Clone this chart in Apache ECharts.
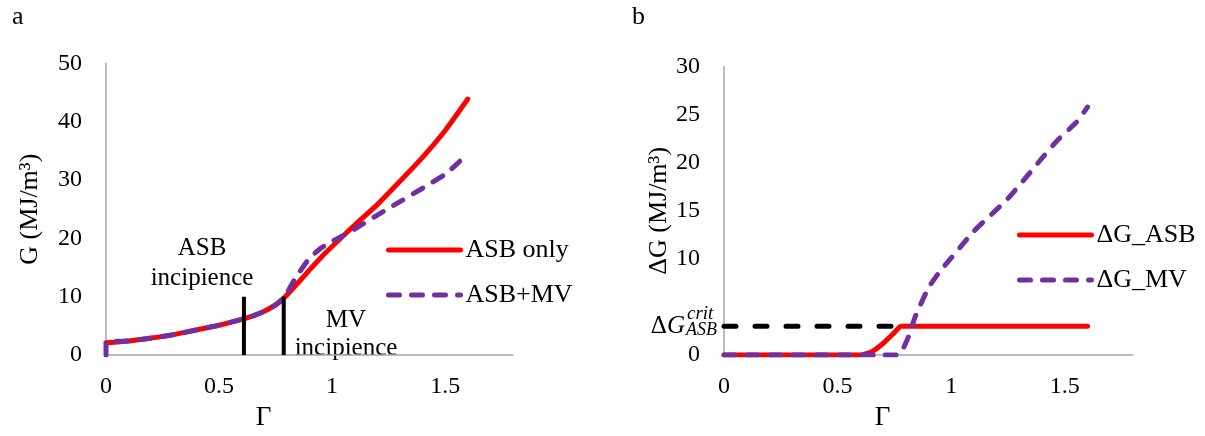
<!DOCTYPE html>
<html>
<head>
<meta charset="utf-8">
<script src="https://cdn.jsdelivr.net/npm/echarts@6/dist/echarts.min.js"></script>
<style>
html,body{margin:0;padding:0;background:#fff;}
#c{width:1205px;height:436px;}
</style>
</head>
<body>
<div id="c"></div>
<script>
// ---------- data ----------
// Panel a: G vs Γ
const gammaA_ASB = [0, 0.1, 0.2, 0.3, 0.4, 0.5, 0.6, 0.65, 0.7, 0.75, 0.8, 0.85, 0.9, 0.95, 1.0, 1.1, 1.2, 1.3, 1.4, 1.5, 1.6];
const G_ASB      = [2.1, 2.4, 2.9, 3.5, 4.3, 5.1, 6.1, 6.7, 7.5, 8.6, 10.3, 12.4, 14.6, 16.7, 18.6, 22.3, 25.8, 29.8, 33.9, 38.5, 43.9];
const gammaA_MV  = [0, 0, 0.1, 0.2, 0.3, 0.4, 0.5, 0.6, 0.65, 0.7, 0.75, 0.78, 0.8, 0.82, 0.85, 0.9, 0.95, 1.0, 1.05, 1.1, 1.2, 1.3, 1.4, 1.5, 1.55, 1.6];
const G_MV       = [0, 2.1, 2.4, 2.9, 3.5, 4.3, 5.1, 6.1, 6.7, 7.5, 8.6, 9.5, 10.6, 12.0, 13.9, 16.6, 18.3, 19.5, 20.5, 21.6, 24.0, 26.3, 28.6, 31.0, 32.7, 34.6];
const incipienceGamma = [0.61, 0.786];   // vertical marker positions
const markerSpan = [0, 10];              // marker extent in G

// Panel b: ΔG vs Γ
const gammaB_ASB = [0, 0.6, 0.65, 0.7, 0.74, 0.77, 0.78, 1.0, 1.3, 1.6];
const dG_ASB     = [0, 0, 0.35, 1.2, 2.1, 2.85, 3.0, 3.0, 3.0, 3.0];
const gammaB_MV  = [0, 0.76, 0.78, 0.81, 0.84, 0.87, 0.9, 0.95, 1.0, 1.05, 1.1, 1.18, 1.25, 1.33, 1.4, 1.47, 1.55, 1.6];
const dG_MV      = [0, 0, 0.3, 1.8, 3.9, 5.5, 7.0, 8.7, 10.1, 11.5, 12.9, 14.7, 16.3, 18.5, 20.5, 22.4, 24.2, 25.8];
const critGamma  = [0, 0.77];
const critValue  = 3;

const xTicksA = {min: 0, max: 1.8, interval: 0.5};
const yTicksA = {min: 0, max: 50, interval: 10};
const yTicksB = {min: 0, max: 30, interval: 5};

// ---------- helpers ----------
const zip = (xs, ys) => xs.map((x, i) => [x, ys[i]]);
const FONT = 'Liberation Serif';
const RED = '#FF0000', PURPLE = '#7030A0', AXIS = '#A6A6A6';
const LW = 5;
const DASH = [11, 12];

function xAxis(gi){
  return {
    type: 'value', gridIndex: gi, min: xTicksA.min, max: xTicksA.max, interval: xTicksA.interval,
    name: 'Γ', nameLocation: 'middle', nameGap: 49,
    nameTextStyle: {fontFamily: FONT, fontSize: 27, color: '#000', padding: [0, 92, 0, 0]},
    axisLine: {show: true, onZero: false, lineStyle: {color: AXIS, width: 1.5}},
    axisTick: {show: false}, splitLine: {show: false},
    axisLabel: {fontFamily: FONT, fontSize: 24, color: '#000', margin: 20, showMaxLabel: false,
      formatter: v => (Math.abs(v - 1.8) < 1e-6 ? '' : String(v))}
  };
}
function yAxis(gi, t, name, gap, hide){
  return {
    type: 'value', gridIndex: gi, min: t.min, max: t.max, interval: t.interval,
    name: name, nameLocation: 'middle', nameGap: gap, nameRotate: 90,
    nameTextStyle: {fontFamily: FONT, fontSize: 26, color: '#000'},
    axisLine: {show: true, lineStyle: {color: AXIS, width: 1.5}},
    axisTick: {show: false}, splitLine: {show: false},
    axisLabel: {fontFamily: FONT, fontSize: 24, color: '#000', margin: 24,
      formatter: v => (hide.indexOf(v) >= 0 ? '' : String(v))}
  };
}
function lineSeries(name, xi, data, color, dash, width, z){
  return {
    type: 'line', name: name, xAxisIndex: xi, yAxisIndex: xi, data: data,
    showSymbol: false, symbol: 'none', smooth: 0.2, z: z || 2,
    lineStyle: {color: color, width: width || LW, type: dash || 'solid', cap: 'round', join: 'round'},
    itemStyle: {color: color}, emphasis: {disabled: true}, animation: false
  };
}

const chart = echarts.init(document.getElementById('c'), null, {renderer: 'canvas'});
const series = [
  lineSeries('ASB only', 0, zip(gammaA_ASB, G_ASB), RED, 'solid', LW, 2),
  lineSeries('ASB+MV', 0, zip(gammaA_MV, G_MV), PURPLE, DASH, LW, 3),
  ...incipienceGamma.map(g => Object.assign(
      lineSeries('', 0, [[g, markerSpan[0]], [g, markerSpan[1]]], '#000', 'solid', 4, 4),
      {smooth: false, lineStyle: {color: '#000', width: 4, cap: 'butt'}})),
  Object.assign(lineSeries('crit', 1, zip(critGamma, [critValue, critValue]), '#000', [12, 19], 5, 1), {smooth: false}),
  lineSeries('ΔG_ASB', 1, zip(gammaB_ASB, dG_ASB), RED, 'solid', LW, 2),
  lineSeries('ΔG_MV', 1, zip(gammaB_MV, dG_MV), PURPLE, DASH, LW, 3)
];

const legendText = {fontFamily: FONT, fontSize: 26, color: '#000', lineHeight: 30};
const solidItem = name => ({name: name, itemStyle: {opacity: 0}, lineStyle: {color: RED, width: LW, type: 'solid', cap: 'round'}});
const dashItem = name => ({name: name, itemStyle: {opacity: 0}, lineStyle: {color: PURPLE, width: LW, type: DASH, cap: 'round'}});
chart.setOption({
  animation: false,
  backgroundColor: '#fff',
  grid: [
    {left: 106, top: 63.5, width: 407, height: 298.5},
    {left: 724, top: 66.7, width: 409, height: 294}
  ],
  xAxis: [xAxis(0), xAxis(1)],
  yAxis: [yAxis(0, yTicksA, 'G (MJ/m³)', 63, []), yAxis(1, yTicksB, 'ΔG (MJ/m³)', 52, [5])],
  legend: [
    {data: [solidItem('ASB only'), dashItem('ASB+MV')], orient: 'vertical', left: 381, top: 230, itemWidth: 72, itemHeight: 14,
     itemGap: 15, textStyle: legendText, selectedMode: false},
    {data: [solidItem('ΔG_ASB'), dashItem('ΔG_MV')], orient: 'vertical', left: 1012, top: 215, itemWidth: 72, itemHeight: 14,
     itemGap: 15, textStyle: legendText, selectedMode: false}
  ],
  series: series,
  graphic: [
    {type: 'text', left: 12, top: 4, style: {text: 'a', font: '26px ' + FONT, fill: '#000'}},
    {type: 'text', left: 632, top: 4, style: {text: 'b', font: '26px ' + FONT, fill: '#000'}},
    {type: 'text', x: 202, y: 248, style: {text: 'ASB', font: '25px ' + FONT, fill: '#000', align: 'center', verticalAlign: 'middle'}},
    {type: 'text', x: 202, y: 278, style: {text: 'incipience', font: '25px ' + FONT, fill: '#000', align: 'center', verticalAlign: 'middle'}},
    {type: 'text', x: 346, y: 320, style: {text: 'MV', font: '25px ' + FONT, fill: '#000', align: 'center', verticalAlign: 'middle'}},
    {type: 'text', x: 346, y: 348, style: {text: 'incipience', font: '25px ' + FONT, fill: '#000', align: 'center', verticalAlign: 'middle'}},
    {type: 'text', x: 685, y: 326, style: {
      text: '{u|Δ}{i|G}', align: 'right', verticalAlign: 'middle',
      rich: {u: {fontFamily: FONT, fontSize: 25, fill: '#000'}, i: {fontFamily: FONT, fontSize: 25, fontStyle: 'italic', fill: '#000'}}}},
    {type: 'text', x: 687, y: 314, style: {text: 'crit', fontFamily: FONT, fontSize: 19, fontStyle: 'italic', fill: '#000', align: 'left', verticalAlign: 'middle'}},
    {type: 'text', x: 686, y: 330, style: {text: 'ASB', fontFamily: FONT, fontSize: 18, fontStyle: 'italic', fill: '#000', align: 'left', verticalAlign: 'middle'}}
  ]
});
</script>
</body>
</html>
